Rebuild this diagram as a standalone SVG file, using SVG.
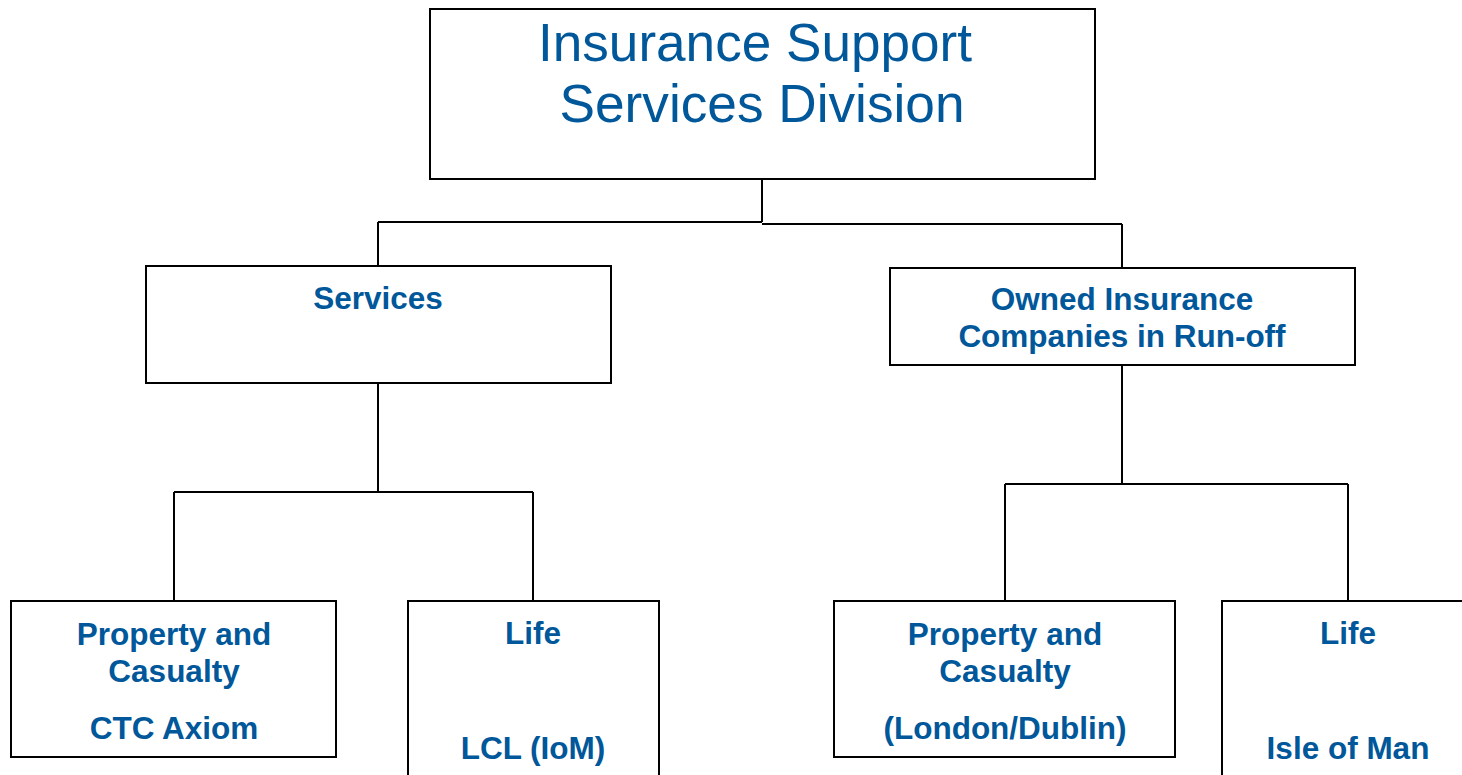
<svg xmlns="http://www.w3.org/2000/svg" width="1462" height="775" viewBox="0 0 1462 775">
<style>
.box{fill:#fff;stroke:#000;stroke-width:2}
.con{fill:none;stroke:#000;stroke-width:2}
.t{font-family:"Liberation Sans",Arial,sans-serif;fill:#00579A;text-anchor:middle}
.b{font-weight:bold;font-size:31.5px}
.big{font-size:54px}
</style>
<rect width="1462" height="775" fill="#fff"/>
<g id="connectors">
<path class="con" d="M762,179 V222 M378,222 H762 M762,224 H1122 M378,222 V266 M1122,224 V268"/>
<path class="con" d="M378,383 V492 M174,492 H533 M174,492 V601 M533,492 V601"/>
<path class="con" d="M1122,365 V484 M1005,484 H1348 M1005,484 V601 M1348,484 V601"/>
</g>
<g id="root">
<rect class="box" x="430" y="9" width="665" height="170"/>
<text class="t big" x="755" y="61" textLength="434" lengthAdjust="spacingAndGlyphs">Insurance Support</text>
<text class="t big" x="762" y="122" textLength="405" lengthAdjust="spacingAndGlyphs">Services Division</text>
</g>
<g id="services">
<rect class="box" x="146" y="266" width="465" height="117"/>
<text class="t b" x="378" y="309">Services</text>
</g>
<g id="owned">
<rect class="box" x="890" y="268" width="465" height="97"/>
<text class="t b" x="1122" y="310">Owned Insurance</text>
<text class="t b" x="1122" y="347">Companies in Run-off</text>
</g>
<g id="svc-pc">
<rect class="box" x="11" y="601" width="325" height="156"/>
<text class="t b" x="174" y="645">Property and</text>
<text class="t b" x="174" y="682">Casualty</text>
<text class="t b" x="174" y="739">CTC Axiom</text>
</g>
<g id="svc-life">
<rect class="box" x="408" y="601" width="251" height="190"/>
<text class="t b" x="533" y="644">Life</text>
<text class="t b" x="533" y="759">LCL (IoM)</text>
</g>
<g id="own-pc">
<rect class="box" x="834" y="601" width="341" height="156"/>
<text class="t b" x="1005" y="645">Property and</text>
<text class="t b" x="1005" y="682">Casualty</text>
<text class="t b" x="1005" y="739">(London/Dublin)</text>
</g>
<g id="own-life">
<rect class="box" x="1222" y="601" width="260" height="190"/>
<text class="t b" x="1348" y="644">Life</text>
<text class="t b" x="1348" y="759">Isle of Man</text>
</g>
</svg>
